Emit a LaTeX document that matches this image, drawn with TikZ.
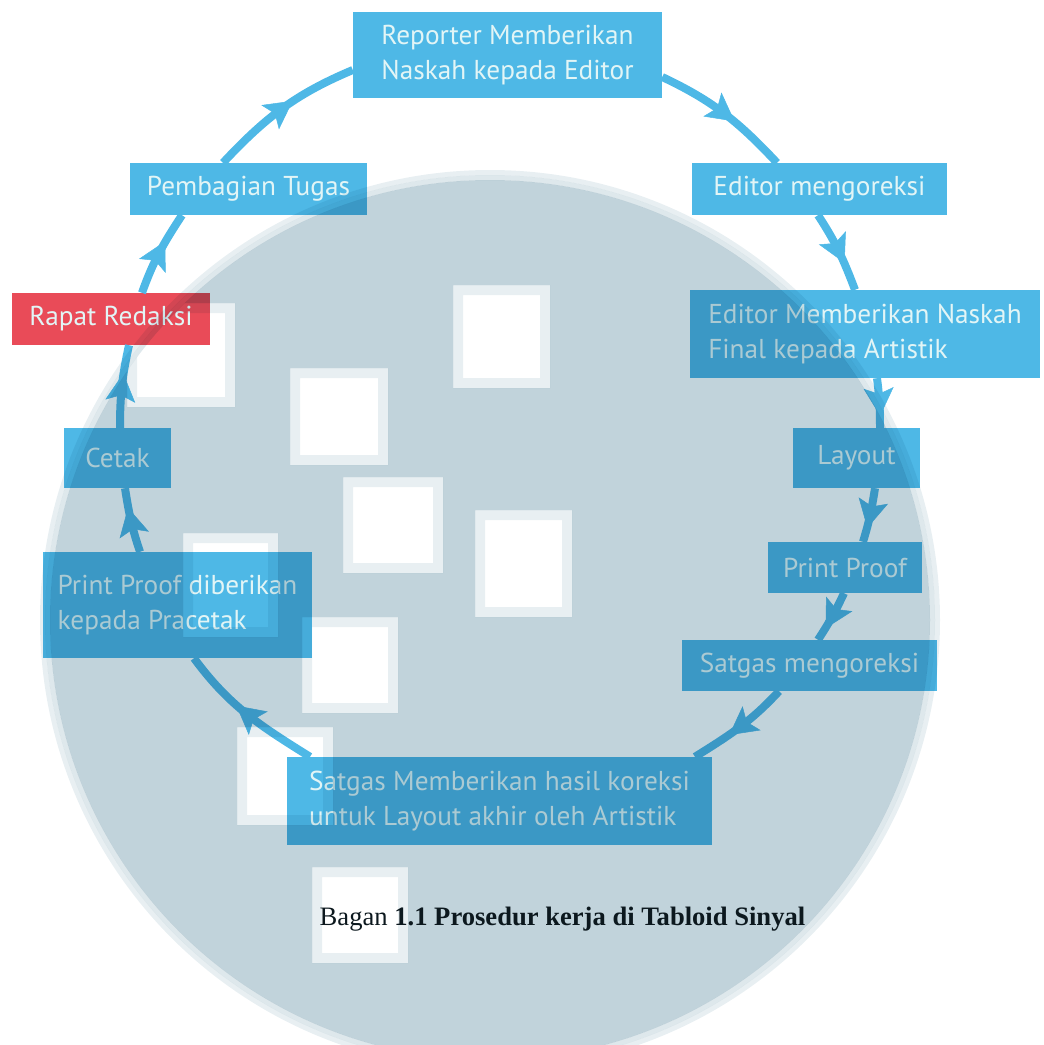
\documentclass[tikz,border=0pt]{standalone}
\usepackage{fontspec}
\setmainfont{Liberation Serif}
\newfontfamily\boxfont{PT Sans}
\usetikzlibrary{arrows.meta,decorations.markings}
\definecolor{cblue}{RGB}{78,184,230}
\definecolor{ctext}{RGB}{226,245,246}
\definecolor{cred}{RGB}{233,75,88}
\definecolor{cgray}{RGB}{193,211,219}
\definecolor{cfringe}{RGB}{232,239,242}
\definecolor{cedge}{RGB}{222,232,236}
\definecolor{ccap}{RGB}{12,24,30}
\def\holelist{300/378/378/455, 353/487/433/563, 463/295/540/378, 485/520/562/607,
  312/627/388/703, 247/737/323/815, 322/877/398/953, 137/313/225/397, 193/543/268/627}
\tikzset{
  box/.style={fill=cblue, text=ctext, inner xsep=0pt, inner ysep=0pt,
    font=\boxfont\fontsize{27.3}{35}\selectfont},
  redbox/.style={box, fill=cred},
  link/.style={line width=8pt, draw=cblue, postaction={decorate},
    decoration={markings, mark=at position 0.5 with
      {\arrow[xshift=13pt]{Stealth[length=28pt,width=30pt,inset=6pt,line width=0.5pt]}}}},
  overlay/.style={blend mode=multiply, even odd rule}
}
\begin{document}
\begin{tikzpicture}[x=1pt,y=1pt]
\useasboundingbox (0,0) rectangle (1044,-1045);
\clip (0,0) rectangle (1044,-1045);
% diagram
\node[box, minimum width=309pt, minimum height=86pt, align=left] (rep) at (507.5,-55) {Reporter Memberikan\\Naskah kepada Editor};
\node[box, minimum width=255pt, minimum height=52pt] (edm) at (819.5,-189) {Editor mengoreksi};
\node[box, minimum width=237pt, minimum height=52pt] (pem) at (248.5,-189) {Pembagian Tugas};
\node[redbox, minimum width=198pt, minimum height=52pt] (rap) at (111,-319) {Rapat Redaksi};
\node[box, minimum width=350pt, minimum height=88pt, align=left] (edf) at (865,-334) {Editor Memberikan Naskah\\Final kepada Artistik};
\node[box, minimum width=127pt, minimum height=60pt] (lay) at (856.5,-458) {Layout};
\node[box, minimum width=154pt, minimum height=51pt] (ppr) at (845,-567.5) {Print Proof};
\node[box, minimum width=255pt, minimum height=51pt] (sam) at (809.5,-665.5) {Satgas mengoreksi};
\node[box, minimum width=425pt, minimum height=88pt, align=left] (sat) at (499.5,-801) {Satgas Memberikan hasil koreksi\\untuk Layout akhir oleh Artistik};
\node[box, minimum width=269pt, minimum height=106pt, align=left] (ppd) at (177.5,-605) {Print Proof diberikan\\kepada Pracetak};
\node[box, minimum width=107pt, minimum height=60pt] (cet) at (117.5,-458) {Cetak};
% connectors
\draw[link] ([xshift=31pt]rap.north) to[out=70.4,in=236.7] ([xshift=-66.5pt]pem.south);
\draw[link] ([xshift=-25.5pt]pem.north) to[out=46.9,in=202.8] ([yshift=-15pt]rep.west);
\draw[link] ([yshift=-22pt]rep.east) to[out=-25.2,in=133.1] ([xshift=-42.5pt]edm.north);
\draw[link] ([xshift=-1.5pt]edm.south) to[out=-56.7,in=110.8] ([xshift=-10pt]edf.north);
\draw[link] ([xshift=12pt]edf.south) to[out=-82.6,in=90] ([xshift=23.5pt]lay.north);
\draw[link] ([xshift=18.5pt]lay.south) to[out=-98.9,in=72.9] ([xshift=18pt]ppr.north);
\draw[link] ([xshift=-1pt]ppr.south) to[out=-115.2,in=56.9] ([xshift=8.5pt]sam.north);
\draw[link] ([xshift=-30.5pt]sam.south) to[out=-132.7,in=32] ([xshift=195.5pt]sat.north);
\draw[link] ([xshift=-189.5pt]sat.north) to[out=148,in=-53.6] ([xshift=16.5pt]ppd.south);
\draw[link] ([xshift=-37.5pt]ppd.north) to[out=108.7,in=-81.1] ([xshift=7.5pt]cet.south);
\draw[link] ([xshift=2.5pt]cet.north) to[out=90,in=257.6] ([xshift=18pt]rap.south);
% grey disc with square openings, laid over with multiply
\fill[cfringe, overlay] (490,-620) circle (450) (490,-620) circle (445);
\fill[cedge, overlay] (490,-620) circle (445) (490,-620) circle (440);
\begin{scope}
  \clip (490,-620) circle (440);
  \fill[cgray, overlay] (-10,10) rectangle (1054,-1055)
    \foreach \a/\b/\c/\d in \holelist {(\a-10,-\b+10) rectangle (\c+10,-\d-10)};
  \fill[cfringe, overlay]
    \foreach \a/\b/\c/\d in \holelist {(\a-10,-\b+10) rectangle (\c+10,-\d-10) (\a,-\b) rectangle (\c,-\d)};
\end{scope}
\node[anchor=base, text=ccap, inner sep=0pt, font=\fontsize{26.6}{30}\selectfont] (cap) at (562.5,-925) {Bagan \textbf{1.1 Prosedur kerja di Tabloid Sinyal}};
\end{tikzpicture}
\end{document}
